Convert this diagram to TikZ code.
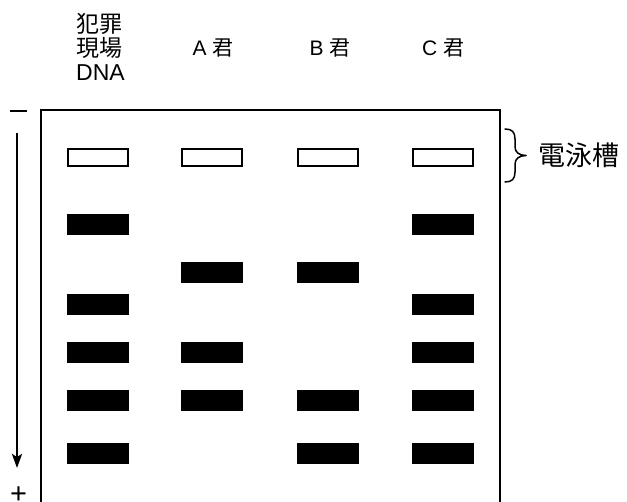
\documentclass[tikz,border=0pt]{standalone}
\usepackage{fontspec}
\setmainfont{Liberation Sans}
\newfontfamily\cjk{Noto Sans CJK TC}
\usetikzlibrary{arrows.meta}
\begin{document}
\begin{tikzpicture}[x=1pt,y=-1pt,
  band/.style={fill=black,draw=none,minimum width=62pt,minimum height=21pt,inner sep=0pt},
  well/.style={draw=black,line width=2pt,fill=white,minimum width=60pt,minimum height=17pt,inner sep=0pt},
  lbl/.style={font=\fontsize{21}{24}\selectfont,inner sep=0pt},
  lblA/.style={font=\fontsize{23}{24}\selectfont,align=left,inner sep=0pt}]
\useasboundingbox (0,0) rectangle (627,502);
% gel tank, open at the bottom
\draw[line width=2.6pt] (41,515) -- (41,110) -- (500,110) -- (500,515);
% lane labels
\node[lblA,anchor=west] (l1) at (76,47) {{\cjk 犯罪}\\{\cjk 現場}\\DNA};
\node[lbl] (l2) at (213,48) {A {\cjk 君}};
\node[lbl] (l3) at (330,48) {B {\cjk 君}};
\node[lbl] (l4) at (443,48) {C {\cjk 君}};
% wells
\foreach \x/\n in {98/1,212/2,328/3,443/4}
  \node[well] (w\n) at (\x,157.5) {};
% bands
\node[band] (b11) at (98,224.5) {};
\node[band] (b13) at (98,304.5) {};
\node[band] (b14) at (98,352.5) {};
\node[band] (b15) at (98,400.5) {};
\node[band] (b16) at (98,453.5) {};
\node[band] (b22) at (212,272.5) {};
\node[band] (b24) at (212,352.5) {};
\node[band] (b25) at (212,400.5) {};
\node[band] (b32) at (327.5,272.5) {};
\node[band] (b35) at (327.5,400.5) {};
\node[band] (b36) at (327.5,453.5) {};
\node[band] (b41) at (442.5,224.5) {};
\node[band] (b43) at (442.5,304.5) {};
\node[band] (b44) at (442.5,352.5) {};
\node[band] (b45) at (442.5,400.5) {};
\node[band] (b46) at (442.5,453.5) {};
% polarity and migration direction
\draw[line width=1.6pt] (10,111) -- (27,111);
\node[font=\fontsize{29}{29}\selectfont,inner sep=0pt] (plus) at (18.5,495) {+};
\coordinate (atop) at (17,133);
\coordinate (abot) at (17,468);
\draw[line width=2.4pt,-{Stealth[length=14pt,width=10pt,inset=3pt]}] (atop) -- (abot);
% brace and tank label
\coordinate (bt) at (505,129);
\coordinate (bm) at (526,155.5);
\coordinate (bb) at (505,182);
\draw[line width=1.5pt,line cap=round,line join=round]
  (bt) .. controls (512,129) and (515,132) .. (515,139)
  -- (515,147) .. controls (515,152) and (519,155.5) .. (bm)
  .. controls (519,155.5) and (515,159) .. (515,164)
  -- (515,172) .. controls (515,179) and (512,182) .. (bb);
\node[font=\fontsize{27}{27}\selectfont,inner sep=0pt,anchor=west] (tank) at (538,155.5) {\cjk 電泳槽};
\end{tikzpicture}
\end{document}
